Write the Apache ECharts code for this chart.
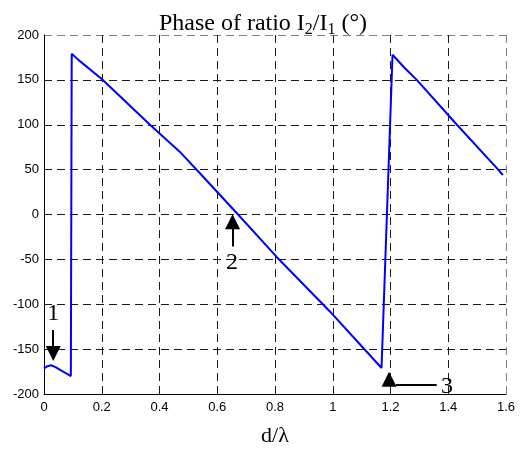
<!DOCTYPE html>
<html>
<head>
<meta charset="utf-8">
<script src="https://cdn.jsdelivr.net/npm/echarts@6/dist/echarts.min.js"></script>
<style>html,body{margin:0;padding:0;background:#fff;}#c{width:526px;height:452px;}</style>
</head>
<body>
<div id="c"></div>
<script>
// Curve: phase of I2/I1 (degrees) vs d/lambda
const phaseX = [0, 0.012, 0.024, 0.04, 0.06, 0.08, 0.093,
  0.096, 0.12, 0.2, 0.367, 0.47, 0.56, 0.672, 0.805, 0.99, 1.112, 1.169,
  1.207, 1.25, 1.291, 1.43, 1.573, 1.589];
const phaseY = [-171.5, -169, -168, -170, -174, -177.5, -180,
  179, 172, 151, 100, 70, 39, 0, -47, -108, -151, -171,
  178, 163, 150, 100, 50, 44];

// Axis ticks
const xTicks = [0, 0.2, 0.4, 0.6, 0.8, 1, 1.2, 1.4, 1.6];
const yTicks = [-200, -150, -100, -50, 0, 50, 100, 150, 200];

// Annotations (data coordinates)
const noteLabels = ['1', '2', '3'];
const noteLabelX = [0.032, 0.651, 1.396];
const noteLabelY = [-110.5, -53.5, -192];
const headX = [0.032, 0.653, 1.195];
const headY = [-155, -8, -183.5];
const headRotate = [180, 0, 0];
const shaftX1 = [0.032, 0.653, 1.219];
const shaftY1 = [-128.8, -16, -190];
const shaftX2 = [0.032, 0.653, 1.36];
const shaftY2 = [-147, -35.6, -190];

const SERIF = "'Liberation Serif','Times New Roman',serif";
const SANS = "'Liberation Sans',Arial,sans-serif";

const chart = echarts.init(document.getElementById('c'), null, {renderer: 'canvas'});

const curve = phaseX.map((x, i) => [x, phaseY[i]]);

const gridColorsX = xTicks.map((t, i) => i === xTicks.length - 1 ? '#808080' : '#1a1a1a');
const gridColorsY = yTicks.map((t, i) => i === yTicks.length - 1 ? '#808080' : '#1a1a1a');

const markPoints = [];
noteLabels.forEach((txt, i) => {
  markPoints.push({
    coord: [headX[i], headY[i]],
    symbol: 'triangle', symbolSize: [15, 15], symbolRotate: headRotate[i],
    itemStyle: {color: '#000'}, label: {show: false}
  });
  markPoints.push({
    coord: [noteLabelX[i], noteLabelY[i]],
    symbol: 'circle', symbolSize: 0,
    itemStyle: {color: 'transparent'},
    label: {show: true, position: 'inside', formatter: txt, color: '#000', fontFamily: SERIF, fontSize: 24}
  });
});
const markLines = noteLabels.map((t, i) => [
  {coord: [shaftX1[i], shaftY1[i]]},
  {coord: [shaftX2[i], shaftY2[i]]}
]);

chart.setOption({
  animation: false,
  backgroundColor: '#fff',
  title: {
    text: 'Phase of ratio I{sub|2}/I{sub|1} (°)',
    left: 'center', top: 5,
    textStyle: {
      fontFamily: SERIF, fontSize: 24, fontWeight: 'normal', color: '#000', lineHeight: 28,
      rich: {
        sub: {fontFamily: SERIF, fontSize: 16, lineHeight: 16, verticalAlign: 'bottom', color: '#000'}
      }
    }
  },
  grid: {left: 44, right: 20, top: 35, bottom: 52, containLabel: false},
  xAxis: {
    type: 'value', min: 0, max: 1.6, interval: 0.2,
    name: 'd/λ', nameLocation: 'middle', nameGap: 31,
    nameTextStyle: {fontFamily: SERIF, fontSize: 22, color: '#000'},
    axisLine: {show: true, onZero: false, lineStyle: {color: '#000', width: 1}},
    axisTick: {show: false},
    axisLabel: {margin: 7, color: '#000', fontFamily: SANS, fontSize: 13,
      formatter: v => String(+v.toFixed(1))},
    splitLine: {show: true, lineStyle: {color: gridColorsX, type: [8, 5], width: 1}}
  },
  yAxis: {
    type: 'value', min: -200, max: 200, interval: 50,
    axisLine: {show: true, onZero: false, lineStyle: {color: '#000', width: 1}},
    axisTick: {show: false},
    axisLabel: {margin: 5, color: '#000', fontFamily: SANS, fontSize: 13},
    splitLine: {show: true, lineStyle: {color: gridColorsY, type: [8, 5], width: 1}}
  },
  series: [{
    type: 'line',
    data: curve,
    showSymbol: false, symbol: 'none',
    lineStyle: {color: '#0000ff', width: 2},
    itemStyle: {color: '#0000ff'},
    z: 3,
    markPoint: {silent: true, data: markPoints},
    markLine: {
      silent: true, symbol: ['none', 'none'],
      lineStyle: {color: '#000', width: 2, type: 'solid'},
      label: {show: false},
      data: markLines
    }
  }]
});
</script>
</body>
</html>
